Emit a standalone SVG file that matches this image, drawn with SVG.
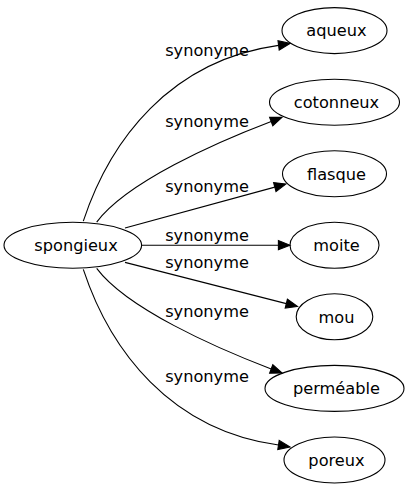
<svg xmlns="http://www.w3.org/2000/svg" width="409" height="491" viewBox="0 0 409 491">
<style>
text{font-family:"DejaVu Sans","Verdana",sans-serif;font-size:16.2px;fill:#000;text-anchor:middle}
.n ellipse{fill:none;stroke:#000;stroke-width:1.1}
.e path{fill:none;stroke:#000;stroke-width:1.1}
.e polygon{fill:#000;stroke:#000;stroke-width:1.1}
</style>
<rect width="409" height="491" fill="#fff"/>
<g id="edges" class="e">
<path d="M83.3,221.1 C110,140.4 170,60.4 278.5,45.4"/>
<polygon points="290,43.4 278,40.8 279.2,50"/>
<text x="207" y="56">synonyme</text>
<path d="M96.7,222.1 C126.7,182.1 215.1,142.8 271.2,121.5"/>
<polygon points="282,117.4 269.6,117.2 272.8,125.8"/>
<text x="207" y="127.3">synonyme</text>
<path d="M125,228 L274.8,187.1"/>
<polygon points="286,184 273.6,182.6 276,191.6"/>
<text x="207" y="191.7">synonyme</text>
<path d="M141.7,245.2 L278.4,245.2"/>
<polygon points="290,245.2 278.4,240.6 278.4,249.8"/>
<text x="207" y="240.7">synonyme</text>
<path d="M125,262.4 L286.3,303.6"/>
<polygon points="297.5,306.5 287.4,299.1 285.2,308.1"/>
<text x="207" y="267.7">synonyme</text>
<path d="M96.7,268.3 C126.7,308.3 215.1,347.6 271.2,368.9"/>
<polygon points="282,373 272.8,364.6 269.6,373.2"/>
<text x="207" y="316.7">synonyme</text>
<path d="M83.3,269.3 C110,350 170,430 278.5,445"/>
<polygon points="290,447 279.2,440.4 277.8,449.6"/>
<text x="207" y="381.7">synonyme</text>
</g>
<g id="spongieux" class="n"><ellipse cx="72.8" cy="245.2" rx="68.8" ry="23"/><text x="76" y="251">spongieux</text></g>
<g id="aqueux" class="n"><ellipse cx="334.5" cy="30.6" rx="52.5" ry="23"/><text x="336.5" y="36.4">aqueux</text></g>
<g id="cotonneux" class="n"><ellipse cx="334.5" cy="102.2" rx="65" ry="23"/><text x="336.5" y="108">cotonneux</text></g>
<g id="flasque" class="n"><ellipse cx="334.5" cy="173.7" rx="52" ry="23"/><text x="336.5" y="179.5">flasque</text></g>
<g id="moite" class="n"><ellipse cx="334.5" cy="245.2" rx="44.5" ry="23"/><text x="336.5" y="251">moite</text></g>
<g id="mou" class="n"><ellipse cx="334.5" cy="316.8" rx="38.3" ry="23"/><text x="336.5" y="322.6">mou</text></g>
<g id="permeable" class="n"><ellipse cx="334.5" cy="388.4" rx="69.5" ry="23"/><text x="336.5" y="394.2">perméable</text></g>
<g id="poreux" class="n"><ellipse cx="334.5" cy="460" rx="50.5" ry="23"/><text x="336.5" y="465.8">poreux</text></g>
</svg>
